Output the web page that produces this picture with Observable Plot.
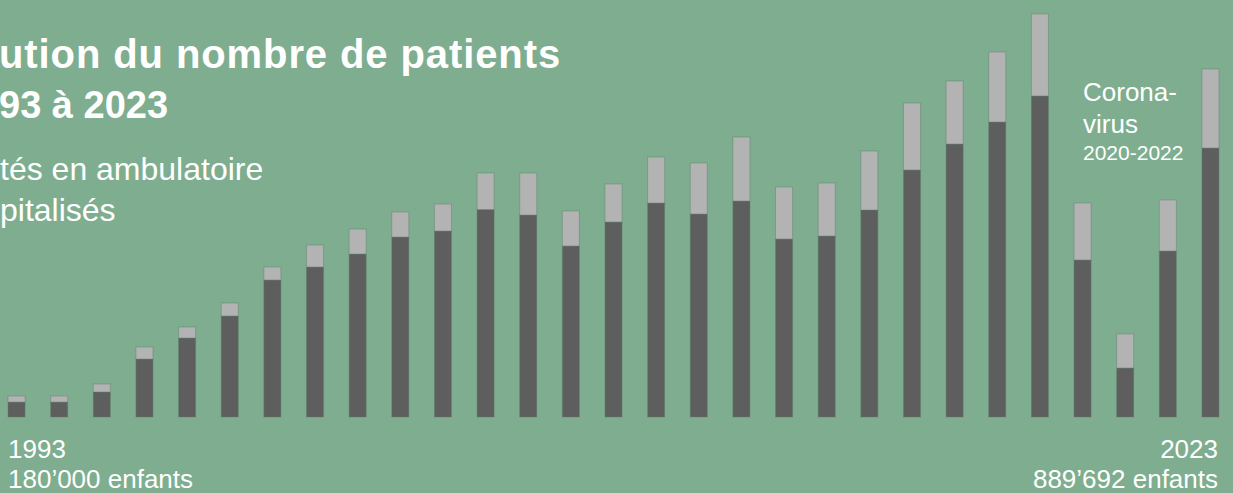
<!DOCTYPE html>
<html>
<head>
<meta charset="utf-8">
<script src="https://cdn.jsdelivr.net/npm/d3@7"></script>
<script src="https://cdn.jsdelivr.net/npm/@observablehq/plot@0.6"></script>
<style>
  html, body { margin: 0; padding: 0; background: #7eae8f; }
  #wrap { position: relative; width: 1233px; height: 493px; overflow: hidden; background: #7eae8f; font-family: "Liberation Sans", Arial, sans-serif; color: #fff; }
  #wrap svg { position: absolute; left: 0; top: 0; background: transparent; }
  .t { position: absolute; white-space: nowrap; line-height: 1; color: #fff; }
</style>
</head>
<body>
<div id="wrap">
  <div class="t" style="left:-1px; top:34.4px; font-size:40px; font-weight:bold; letter-spacing:0.9px;">ution du nombre de patients</div>
  <div class="t" style="left:-1px; top:86px; font-size:38px; font-weight:bold;">93 à 2023</div>
  <div class="t" style="left:0px; top:153px; font-size:32px;">tés en ambulatoire</div>
  <div class="t" style="left:0px; top:194px; font-size:32px;">pitalisés</div>
  <div class="t" style="left:1083px; top:76px; font-size:26px; line-height:32px;">Corona-<br>virus</div>
  <div class="t" style="left:1083px; top:142px; font-size:21px;">2020-2022</div>
  <div class="t" style="left:8px; top:436px; font-size:26px;">1993</div>
  <div class="t" style="left:8px; top:466px; font-size:26px;">180’000 enfants</div>
  <div class="t" style="right:15px; top:436px; font-size:26px; text-align:right;">2023</div>
  <div class="t" style="right:15px; top:466px; font-size:26px; text-align:right;">889’692 enfants</div>
</div>
<script>
const years = [1995,1996,1997,1998,1999,2000,2001,2002,2003,2004,2005,2006,2007,2008,2009,2010,2011,2012,2013,2014,2015,2016,2017,2018,2019,2020,2021,2022,2023];
const ambulatoire = [38300,38300,63900,148300,202000,258200,350300,383500,416700,460200,475500,530500,516400,437200,498500,547100,519000,552200,455100,462700,529200,631500,698000,754200,820700,401400,125300,424400,687692];
const hospitalises = [15300,15300,20500,30700,28100,33200,33200,56200,63900,63900,69000,93300,107400,89500,97200,117600,130400,163600,132900,135500,150800,171300,161100,179000,209600,145700,86900,130400,202000];
const seriesNames = ["Patients traités en ambulatoire", "Patients hospitalisés"];
const seriesColors = ["#5e5e5e", "#b3b3b3"];

const data = [];
years.forEach((yr, i) => {
  data.push({year: yr, series: seriesNames[0], value: ambulatoire[i]});
  data.push({year: yr, series: seriesNames[1], value: hospitalises[i]});
});

const chart = Plot.plot({
  width: 1233,
  height: 493,
  marginLeft: 8,
  marginRight: 14,
  marginTop: 14,
  marginBottom: 76,
  style: {background: "transparent"},
  x: {type: "band", domain: years, padding: 0.6, paddingOuter: 0, round: false, axis: null},
  y: {axis: null},
  color: {domain: seriesNames, range: seriesColors, legend: false},
  marks: [
    Plot.barY(data, Plot.stackY({x: "year", y: "value", fill: "series", order: seriesNames, stroke: "#5f7f6b", strokeOpacity: 0.45, strokeWidth: 1}))
  ]
});
document.getElementById("wrap").prepend(chart);
</script>
</body>
</html>
